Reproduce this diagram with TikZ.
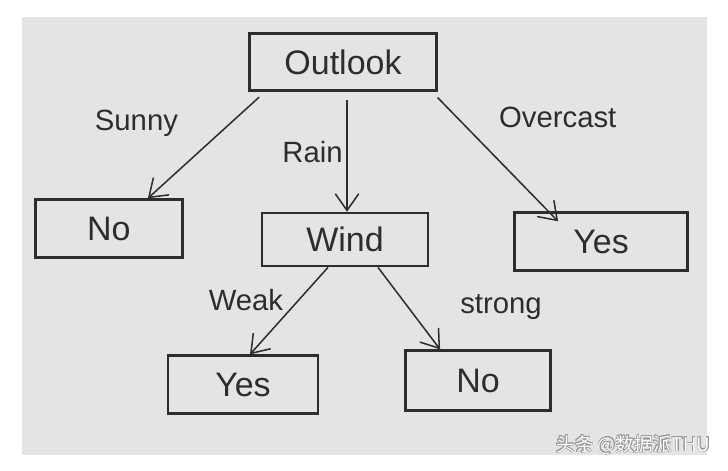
\documentclass[tikz,border=0pt]{standalone}
\usepackage{fontspec}
\setmainfont{Liberation Sans}
\newfontfamily\cjkfont{Noto Sans CJK SC}
\usepackage[copies]{contour}
\contourlength{0.4pt}
\usetikzlibrary{positioning,arrows.meta}
\definecolor{paper}{RGB}{227,229,229}
\definecolor{ink}{RGB}{45,45,45}

\begin{document}
\begin{tikzpicture}[
  tnode/.style={draw=ink, line width=2.2pt, text=ink,
                font=\fontsize{29}{33}\selectfont, minimum height=1.74cm},
  blab/.style={text=ink, font=\fontsize{25}{29}\selectfont, inner sep=1pt},
  flow/.style={draw=ink, line width=1.3pt,
               -{Straight Barb[length=5mm,width=7mm]}},
]
\useasboundingbox (0,0) rectangle (21.84,-14.1);
\fill[paper] (0.67,-0.5) rectangle (21.2,-13.65);

% --- root and first level ---
\node[tnode, minimum width=5.61cm, minimum height=1.71cm] (outlook) at (10.29,-1.86) {Outlook};
\node[tnode, minimum width=4.98cm, minimum height=1.59cm,
      below=3.6cm of outlook, xshift=0.06cm] (wind) {Wind};
\node[tnode, minimum width=4.41cm, left=2.31cm of wind, yshift=0.33cm] (nosunny) {No};
\node[tnode, minimum width=5.19cm, right=2.52cm of wind, yshift=-0.06cm] (yesover) {Yes};

% --- second level ---
\node[tnode, minimum width=4.5cm, below=2.61cm of wind, xshift=-3.06cm] (yesweak) {Yes};
\node[tnode, minimum width=4.35cm, minimum height=1.8cm,
      right=2.55cm of yesweak, yshift=0.12cm] (nostrong) {No};

% --- branches ---
\draw[flow, shorten <=0.24cm] ([xshift=-2.34cm]outlook.south) --
  node[pos=0.3, left=1.5cm, blab] (sunny) {Sunny} ([xshift=1.17cm]nosunny.north);
\draw[flow, shorten <=0.24cm] ([xshift=0.12cm]outlook.south) --
  node[midway, left=2pt, blab] (rain) {Rain} ([xshift=0.06cm]wind.north);
\draw[flow, shorten <=0.24cm] ([xshift=2.67cm]outlook.south) --
  node[pos=0.2, right=1.2cm, blab] (overcast) {Overcast} ([xshift=-1.29cm,yshift=-0.3cm]yesover.north);
\draw[flow] ([xshift=-0.51cm]wind.south) --
  node[pos=0.38, left=0.4cm, blab] (weak) {Weak} ([xshift=0.21cm]yesweak.north);
\draw[flow] ([xshift=0.99cm]wind.south) --
  node[pos=0.49, right=1.5cm, blab] (strong) {strong} ([xshift=-1.14cm]nostrong.north);

% --- watermark ---
\node[text=white, font=\cjkfont\fontsize{16}{18}\selectfont] (mark) at (19.0,-13.35)
  {\contour{black!40}{头条 @数据派THU}};
\end{tikzpicture}
\end{document}
